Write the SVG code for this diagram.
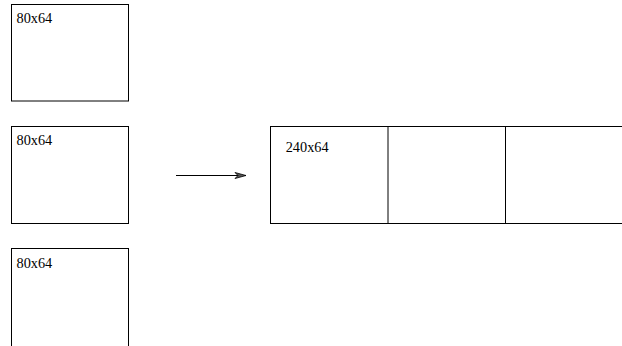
<svg xmlns="http://www.w3.org/2000/svg" width="622" height="346" viewBox="0 0 622 346">
<style>
.box{fill:#fff;stroke:#000;stroke-width:1}
.lbl{font-family:"Liberation Serif",serif;font-size:14.3px;fill:#000}
.conn{fill:none;stroke:#000;stroke-width:1}
</style>
<defs>
<marker id="ah" markerWidth="14" markerHeight="10" refX="12" refY="4" orient="auto" markerUnits="userSpaceOnUse">
<path d="M1,1 L12,4 L1,7 L4,4 Z" fill="#555" stroke="#000" stroke-width="0.8"/>
</marker>
</defs>
<rect width="622" height="346" fill="#fff"/>
<g id="tile1">
<rect class="box" x="11.5" y="4.5" width="117" height="96.5"/>
<text class="lbl" x="16.5" y="22.5">80x64</text>
</g>
<g id="tile2">
<rect class="box" x="11.5" y="126.5" width="117" height="97"/>
<text class="lbl" x="16.5" y="145">80x64</text>
</g>
<g id="tile3">
<rect class="box" x="11.5" y="248.5" width="117" height="100"/>
<text class="lbl" x="16.5" y="267.5">80x64</text>
</g>
<g id="strip">
<rect class="box" x="270.5" y="126.5" width="353" height="97"/>
<line class="conn" x1="388" y1="126.5" x2="388" y2="223.5"/>
<line class="conn" x1="505.5" y1="126.5" x2="505.5" y2="223.5"/>
<text class="lbl" x="285.7" y="151.5">240x64</text>
</g>
<g id="connectors">
<line class="conn" x1="176" y1="175.5" x2="246" y2="175.5" marker-end="url(#ah)"/>
</g>
</svg>
